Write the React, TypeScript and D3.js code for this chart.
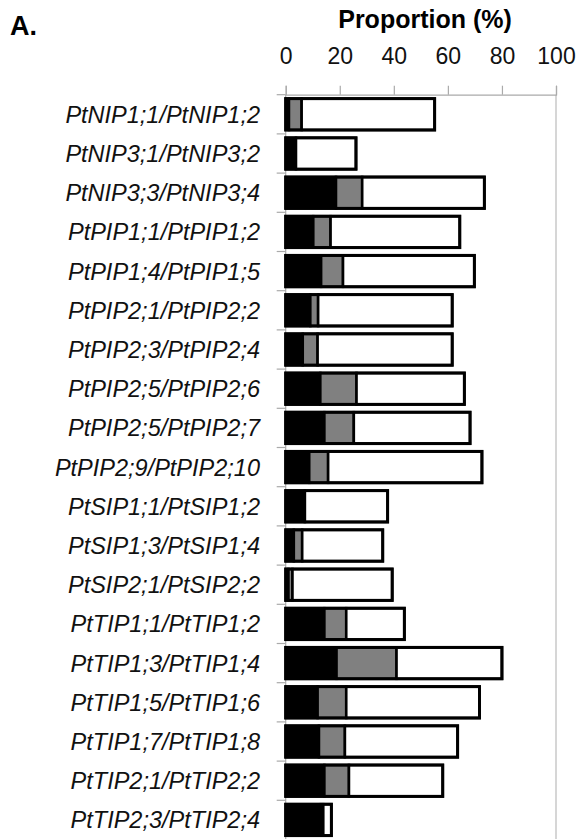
import React, { useEffect, useRef } from 'react';
import * as d3 from 'd3';

const W = 580;
const H = 839;
const margin = { top: 94.7, left: 285.7, right: 24 };

const categories = [
    'PtNIP1;1/PtNIP1;2', 'PtNIP3;1/PtNIP3;2', 'PtNIP3;3/PtNIP3;4', 'PtPIP1;1/PtPIP1;2',
    'PtPIP1;4/PtPIP1;5', 'PtPIP2;1/PtPIP2;2', 'PtPIP2;3/PtPIP2;4', 'PtPIP2;5/PtPIP2;6',
    'PtPIP2;5/PtPIP2;7', 'PtPIP2;9/PtPIP2;10', 'PtSIP1;1/PtSIP1;2', 'PtSIP1;3/PtSIP1;4',
    'PtSIP2;1/PtSIP2;2', 'PtTIP1;1/PtTIP1;2', 'PtTIP1;3/PtTIP1;4', 'PtTIP1;5/PtTIP1;6',
    'PtTIP1;7/PtTIP1;8', 'PtTIP2;1/PtTIP2;2', 'PtTIP2;3/PtTIP2;4'
];

// three stacked parts per row (% units)
const blackVals = [1.2, 3.8, 18.6, 10.2, 13.1, 9.1, 6.3, 12.8, 14.3, 8.7, 7.1, 3.0, 1.0, 14.3, 18.8, 11.8, 12.3, 14.3, 13.0];
const grayVals = [4.7, 0, 9.7, 6.4, 8.1, 2.9, 5.5, 13.4, 10.9, 7.0, 0, 3.1, 1.5, 8.1, 22.2, 10.6, 9.6, 9.1, 0.9];
const whiteVals = [49.2, 22.2, 45.2, 47.8, 48.6, 49.6, 49.8, 39.9, 43.0, 56.9, 30.6, 29.8, 36.9, 21.5, 39.0, 49.3, 41.7, 34.7, 3.0];

const tickValues = [0, 20, 40, 60, 80, 100];
const partFill = ['#000000', '#808080', '#ffffff'];

const FONT = '"Liberation Sans", Arial, sans-serif';

export default function App() {
    const ref = useRef<SVGSVGElement>(null);

    useEffect(() => {
        const svg = d3.select(ref.current);
        svg.selectAll('*').remove();

        const x = d3.scaleLinear().domain([0, 100]).range([margin.left, 556]);
        const y = d3.scaleBand<string>()
            .domain(categories)
            .range([margin.top, margin.top + categories.length * 39.2])
            .paddingInner(0.2)
            .paddingOuter(0.1);

        // panel letter + axis title
        svg.append('text')
            .attr('x', 10).attr('y', 35)
            .style('font-family', FONT).style('font-weight', 'bold').style('font-size', '27px')
            .text('A.');

        svg.append('text')
            .attr('x', 425).attr('y', 28)
            .attr('text-anchor', 'middle')
            .style('font-family', FONT).style('font-weight', 'bold').style('font-size', '25px')
            .text('Proportion (%)');

        // gridline at 100
        svg.append('line')
            .attr('x1', x(100)).attr('x2', x(100))
            .attr('y1', margin.top).attr('y2', H)
            .attr('stroke', '#c8c8c8').attr('stroke-width', 1.5);

        // top axis
        const xAxis = d3.axisTop(x).tickValues(tickValues).tickSize(9).tickPadding(22);
        const gx = svg.append('g')
            .attr('transform', `translate(0, ${margin.top})`)
            .call(xAxis);
        gx.select('.domain').attr('stroke', '#aaaaaa').attr('stroke-width', 1.2);
        gx.selectAll('.tick line').attr('stroke', '#aaaaaa').attr('stroke-width', 1.2);
        gx.selectAll('.tick text')
            .style('font-family', FONT).style('font-size', '23px').attr('fill', '#111');

        // left axis line + separators between rows
        svg.append('line')
            .attr('x1', x(0)).attr('x2', x(0))
            .attr('y1', margin.top).attr('y2', H)
            .attr('stroke', '#aaaaaa').attr('stroke-width', 1.2);

        const step = y.step();
        svg.append('g')
            .selectAll('line')
            .data(categories)
            .enter()
            .append('line')
            .attr('x1', x(0) - 9).attr('x2', x(0))
            .attr('y1', (d) => (y(d) as number) - y.paddingInner() * step / 2 + step * 0)
            .attr('y2', (d) => (y(d) as number) - y.paddingInner() * step / 2)
            .attr('transform', `translate(0, ${-(step * y.paddingOuter() - step * y.paddingInner() / 2)})`)
            .attr('stroke', '#aaaaaa').attr('stroke-width', 1.2);

        // row labels
        svg.append('g')
            .selectAll('text')
            .data(categories)
            .enter()
            .append('text')
            .attr('x', 260)
            .attr('y', (d) => (y(d) as number) + y.bandwidth() / 2)
            .attr('dy', '0.36em')
            .attr('text-anchor', 'end')
            .style('font-family', FONT).style('font-style', 'italic').style('font-size', '23.5px')
            .attr('fill', '#111')
            .text((d) => d);

        // stacked bars
        const rows = categories.map((c, i) => {
            const parts = [blackVals[i], grayVals[i], whiteVals[i]];
            let acc = 0;
            return parts.map((v, k) => {
                const seg = { cat: c, k, x0: acc, x1: acc + v };
                acc += v;
                return seg;
            }).filter((s) => s.x1 > s.x0);
        });

        svg.append('g')
            .selectAll('g')
            .data(rows)
            .enter()
            .append('g')
            .selectAll('rect')
            .data((d) => d)
            .enter()
            .append('rect')
            .attr('x', (d) => x(d.x0))
            .attr('y', (d) => y(d.cat) as number)
            .attr('width', (d) => x(d.x1) - x(d.x0))
            .attr('height', y.bandwidth())
            .attr('fill', (d) => partFill[d.k])
            .attr('stroke', '#000')
            .attr('stroke-width', 2.6);

        // thick outline around each whole bar
        svg.append('g')
            .selectAll('rect')
            .data(rows)
            .enter()
            .append('rect')
            .attr('x', x(0))
            .attr('y', (d) => y(d[0].cat) as number)
            .attr('width', (d) => x(d[d.length - 1].x1) - x(0))
            .attr('height', y.bandwidth())
            .attr('fill', 'none')
            .attr('stroke', '#000')
            .attr('stroke-width', 3);
    }, []);

    return (
        <svg ref={ref} width={W} height={H}
            style={{ position: 'absolute', left: 0, top: 0, background: '#fff' }} />
    );
}
